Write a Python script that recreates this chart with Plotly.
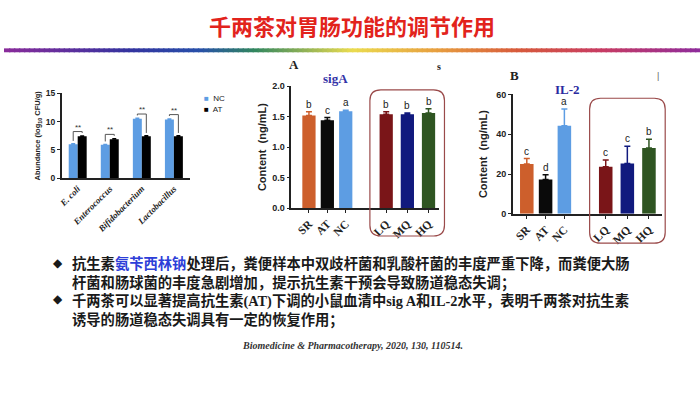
import plotly.graph_objects as go
import numpy as np

# ---------------- data ----------------
taxa = ["E. coli", "Enterococcus", "Bifidobacterium", "Lactobacillus"]
nc_abund = [6.0, 5.9, 10.5, 10.4]
nc_err = [0.1, 0.1, 0.15, 0.1]
at_abund = [7.4, 6.9, 7.4, 7.4]
at_err = [0.1, 0.1, 0.15, 0.15]
sig_marks = ["**", "**", "**", "**"]
series_names = ["NC", "AT"]

groups = ["SR", "AT", "NC", "LQ", "MQ", "HQ"]
siga = [1.52, 1.44, 1.59, 1.54, 1.54, 1.56]
siga_err = [0.06, 0.045, 0.015, 0.04, 0.02, 0.07]
siga_letters = ["b", "c", "a", "b", "b", "b"]
il2 = [25.0, 17.2, 44.2, 23.7, 25.3, 33.1]
il2_err = [2.8, 2.5, 8.5, 3.3, 8.6, 4.4]
il2_letters = ["c", "d", "a", "c", "c", "b"]

# ---------------- style ----------------
W, H = 700, 394
NC_BLUE = "#5d9de3"
SERIES_COLORS = [NC_BLUE, "#000000"]
GROUP_COLORS = ["#cd5f2c", "#0a0a0a", "#5d9de3", "#7a1518", "#111a7e", "#2f5522"]
POS = [0, 1, 2, 4.2, 5.35, 6.5]   # bar slots (gap before the tea groups)
AX = dict(showline=True, linecolor="#222", linewidth=1.5, showgrid=False,
          zeroline=False, ticks="outside", ticklen=3, tickwidth=1.3, tickcolor="#222")


def px(x, y):
    return x / W, 1 - y / H


def rrect(x0, y0, x1, y1, r):
    rx, ry = r / W, r / H
    X0, Y0 = px(x0, y0)
    X1, Y1 = px(x1, y1)
    return (f"M{X0+rx},{Y0} L{X1-rx},{Y0} Q{X1},{Y0} {X1},{Y0-ry} "
            f"L{X1},{Y1+ry} Q{X1},{Y1} {X1-rx},{Y1} L{X0+rx},{Y1} "
            f"Q{X0},{Y1} {X0},{Y1+ry} L{X0},{Y0-ry} Q{X0},{Y0} {X0+rx},{Y0} Z")


fig = go.Figure()
annotations = []

# ---- chart 1: abundance ----
xpos = np.arange(len(taxa))
for name, vals, errs, col in zip(series_names, [nc_abund, at_abund], [nc_err, at_err], SERIES_COLORS):
    fig.add_trace(go.Bar(x=xpos, y=vals, name=name, marker_color=col, marker_line_width=0, showlegend=False,
                         error_y=dict(type="data", array=errs, arrayminus=[0] * len(taxa), symmetric=False,
                                      color=col, thickness=1.2, width=2),
                         xaxis="x", yaxis="y"))
bx, by = [], []
half = (1 - 0.44) / 4
for i, (a, b) in enumerate(zip(nc_abund, at_abund)):
    top = max(a, b) + 0.85
    bx += [i - half, i - half, i + half, i + half, None]
    by += [a + 0.6, top, top, b + 0.6, None]
    annotations.append(dict(x=i, y=top, xref="x", yref="y", text=sig_marks[i], showarrow=False,
                            yanchor="bottom", yshift=-2, font=dict(size=8, color="#333", family="Arial")))
fig.add_trace(go.Scatter(x=bx, y=by, mode="lines", line=dict(color="#555", width=1),
                         showlegend=False, hoverinfo="skip", xaxis="x", yaxis="y"))

# ---- charts A and B ----
for vals, errs, letters, xa, ya in [(siga, siga_err, siga_letters, "x2", "y2"),
                                     (il2, il2_err, il2_letters, "x3", "y3")]:
    for i in range(len(groups)):
        fig.add_trace(go.Bar(x=[POS[i]], y=[vals[i]], width=0.72, offset=-0.36,
                             marker_color=GROUP_COLORS[i], marker_line_width=0, showlegend=False,
                             error_y=dict(type="data", array=[errs[i]], arrayminus=[0], symmetric=False,
                                          color=GROUP_COLORS[i], thickness=1.5, width=3),
                             xaxis=xa, yaxis=ya))
        annotations.append(dict(x=POS[i], y=vals[i] + errs[i], xref=xa, yref=ya, text=letters[i],
                                showarrow=False, yanchor="bottom", yshift=0,
                                font=dict(size=10, color="#222", family="Arial")))

# ---- layout ----
fig.update_layout(
    width=W, height=H, margin=dict(l=0, r=0, t=0, b=0),
    paper_bgcolor="white", plot_bgcolor="white",
    barmode="group", bargap=0.44, bargroupgap=0, showlegend=False,
    xaxis=dict(domain=[58 / W, 187 / W], range=[-0.5, 3.5], tickvals=list(xpos), ticktext=taxa,
               tickangle=-45, anchor="y",
               tickfont=dict(family="Liberation Serif", size=9, style="italic", weight="bold", color="#222"),
               **{**AX, "ticks": ""}),
    yaxis=dict(domain=[1 - 177.7 / H, 1 - 90.7 / H], range=[0, 15], tickvals=[0, 5, 10, 15], anchor="x",
               tickfont=dict(family="Arial", size=8.5, weight="bold", color="#222"),
               title=dict(text="Abundance (log<sub>10</sub> CFU/g)", standoff=4,
                          font=dict(family="Arial", size=7.5, weight="bold", color="#222")),
               **AX),
    xaxis2=dict(domain=[289 / W, 438 / W], range=[-0.957, 7.097], tickvals=POS, ticktext=groups,
                tickangle=-45, anchor="y2",
                tickfont=dict(family="Liberation Serif", size=11.5, weight="bold", color="#222"), **AX),
    yaxis2=dict(domain=[1 - 208.3 / H, 1 - 83.3 / H], range=[0, 2], dtick=0.5, tickformat=".1f", anchor="x2",
                tickfont=dict(family="Arial", size=9, weight="bold", color="#222"),
                title=dict(text="Content  (ng/mL)", standoff=3,
                           font=dict(family="Arial", size=11, weight="bold", color="#222")),
                **AX),
    xaxis3=dict(domain=[511.7 / W, 661.7 / W], range=[-0.746, 7.19], tickvals=POS, ticktext=groups,
                tickangle=-45, anchor="y3",
                tickfont=dict(family="Liberation Serif", size=11.5, weight="bold", color="#222"), **AX),
    yaxis3=dict(domain=[1 - 214.3 / H, 1 - 91.7 / H], range=[0, 60], dtick=20, anchor="x3",
                tickfont=dict(family="Arial", size=9, weight="bold", color="#222"),
                title=dict(text="Content  (ng/mL)", standoff=6,
                           font=dict(family="Arial", size=11, weight="bold", color="#222")),
                **AX),
)

shapes = []
stops = [(0.0, (139, 44, 155)), (0.18, (52, 52, 160)), (0.28, (40, 80, 170)), (0.36, (50, 135, 95)),
         (0.5, (235, 220, 80)), (0.62, (232, 160, 64)), (0.74, (215, 90, 60)), (0.86, (200, 60, 100)),
         (1.0, (142, 44, 156))]


def cinterp(t):
    for (t0, c0), (t1, c1) in zip(stops[:-1], stops[1:]):
        if t0 <= t <= t1:
            f = (t - t0) / (t1 - t0)
            return "rgb(%d,%d,%d)" % tuple(int(c0[k] + f * (c1[k] - c0[k])) for k in range(3))
    return "rgb(142,44,156)"


N = 140
for k in range(N):
    shapes.append(dict(type="rect", xref="paper", yref="paper", x0=k / N, x1=(k + 1) / N + 0.002,
                       y0=1 - 48.5 / H, y1=1 - 44.5 / H, line=dict(width=0), fillcolor=cinterp((k + 0.5) / N),
                       layer="below"))
for (x0, y0, x1, y1) in [(368, 87, 443, 237), (589, 95.7, 665, 244.3)]:
    shapes.append(dict(type="path", xref="paper", yref="paper", path=rrect(x0, y0, x1, y1, 11),
                       line=dict(color="#9a4a4a", width=1.2)))
fig.update_layout(shapes=shapes)


def ptxt(x, y, text, size, color="#222", family="Noto Sans CJK SC", xanchor="left", **font_kw):
    X, Y = px(x, y)
    annotations.append(dict(x=X, y=Y, xref="paper", yref="paper", text=text, showarrow=False,
                            xanchor=xanchor, yanchor="middle", align="left",
                            font=dict(size=size, color=color, family=family, **font_kw)))


# legend for chart 1
for j, (name, col) in enumerate(zip(series_names, SERIES_COLORS)):
    ptxt(199, 96 + 11 * j, f"<span style='color:{col}'>■</span>  {name}", 8, family="Arial")

ptxt(350, 21, "千两茶对胃肠功能的调节作用", 22, color="#e2231c", xanchor="center", weight="bold")
ptxt(292, 61, "A", 13, family="Liberation Serif", xanchor="center", weight="bold")
ptxt(333, 75, "sigA", 13, color="#3434a8", family="Liberation Serif", xanchor="center", weight="bold")
ptxt(437, 63, "s", 10, family="Liberation Serif", xanchor="center", weight="bold")
ptxt(513, 72, "B", 13, family="Liberation Serif", xanchor="center", weight="bold")
ptxt(567, 87, "IL-2", 13, color="#2a2aa0", family="Liberation Serif", xanchor="center", weight="bold")
ptxt(658, 73, "|", 9, color="#666", family="Arial", xanchor="center")

BODY = 14.3
TC = "#1a1a1a"
SERIF = "font-family:Liberation Serif"
ptxt(54, 265, "◆", 12, color=TC, family="DejaVu Sans", xanchor="center")
ptxt(54, 302, "◆", 12, color=TC, family="DejaVu Sans", xanchor="center")
body_lines = [
    "抗生素<span style='color:#2d3ed8'>氨苄西林钠</span>处理后，粪便样本中双歧杆菌和乳酸杆菌的丰度严重下降，而粪便大肠",
    "杆菌和肠球菌的丰度急剧增加，提示抗生素干预会导致肠道稳态失调；",
    f"千两茶可以显著提高抗生素<span style='{SERIF}'>(AT)</span>下调的小鼠血清中"
    f"<span style='{SERIF}'>sig A</span>和<span style='{SERIF}'>IL-2</span>水平，表明千两茶对抗生素",
    "诱导的肠道稳态失调具有一定的恢复作用；",
]
ptxt(66, 293, "<br>".join(body_lines), BODY, color=TC, weight="bold")
ptxt(351, 349, "Biomedicine &amp; Pharmacotherapy, 2020, 130, 110514.", 10, color="#333",
     family="Liberation Serif", xanchor="center", weight="bold", style="italic")

fig.update_layout(annotations=annotations)
fig.write_html("out.html", config={"displayModeBar": False},
               post_script="document.body.style.margin='0';")
